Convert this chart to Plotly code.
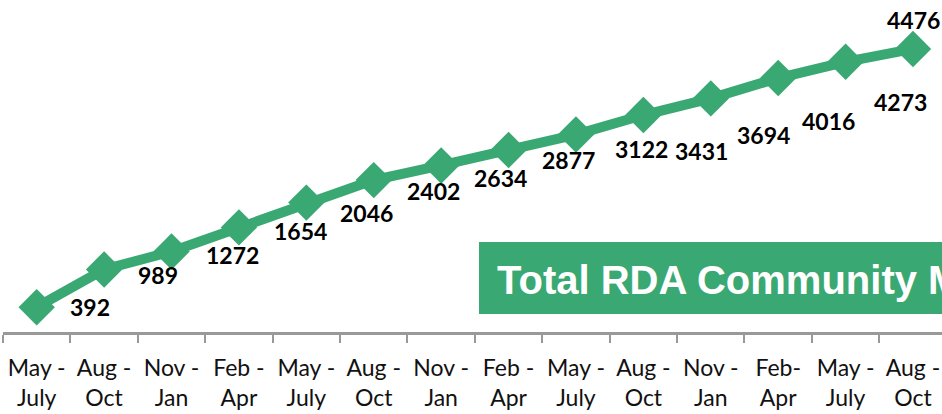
import plotly.graph_objects as go

# ---- data ----
period_start = ["May -", "Aug -", "Nov -", "Feb -", "May -", "Aug -", "Nov -",
                "Feb -", "May -", "Aug -", "Nov -", "Feb-", "May -", "Aug -"]
period_end = ["July", "Oct", "Jan", "Apr", "July", "Oct", "Jan",
              "Apr", "July", "Oct", "Jan", "Apr", "July", "Oct"]
members = [392, 989, 1272, 1654, 2046, 2402, 2634, 2877, 3122, 3431, 3694, 4016, 4273, 4476]

title_text = "Total RDA Community Members"

# label offsets in pixels (right, down) as placed in the original
label_dx = [53, 54, 61, 62, 60, 60, 59, 60, 66, 58, 53, 50, 55, 0]
label_dy = [0, 6, 3, 4, 10, 11, 13, 10, 14, 36, 37, 43, 40, -29]

GREEN = "#3AA872"

x_idx = list(range(len(members)))
tick_text = [f"{a}<br>{b}" for a, b in zip(period_start, period_end)]

fig = go.Figure()
fig.add_trace(go.Scatter(
    x=x_idx, y=members, mode="lines+markers",
    line=dict(color=GREEN, width=10),
    marker=dict(symbol="diamond", size=28, color=GREEN),
    showlegend=False, hoverinfo="skip",
))

annotations = []
for i, v in enumerate(members):
    annotations.append(dict(
        x=i, y=v, xref="x", yref="y", text=str(v), showarrow=False,
        xshift=label_dx[i], yshift=-label_dy[i],
        font=dict(family="Lato", size=23, color="black", weight="bold"),
    ))

# title box text
annotations.append(dict(
    x=(495 - 3) / 939, y=(332 - 280) / 332, xref="paper", yref="paper",
    xanchor="left", yanchor="middle", text=title_text, showarrow=False,
    font=dict(family="Liberation Sans", size=40, color="white", weight="bold"),
))

fig.update_layout(
    width=942, height=414,
    margin=dict(l=3, r=0, t=0, b=82),
    paper_bgcolor="white", plot_bgcolor="white",
    annotations=annotations,
    shapes=[dict(type="rect", xref="paper", yref="paper",
                 x0=(479 - 3) / 939, x1=1.1,
                 y0=(332 - 314) / 332, y1=(332 - 242) / 332,
                 fillcolor=GREEN, line=dict(width=0), layer="below")],
    xaxis=dict(
        range=[-0.5, 13.43], tickmode="array", tickvals=x_idx, ticktext=tick_text,
        ticks="", showgrid=False, zeroline=False,
        showline=True, linecolor="#999999", linewidth=2.5,
        ticklabelstandoff=14,
        tickfont=dict(family="Lato", size=23, color="#111111"),
        minor=dict(tick0=0.5, dtick=1, ticks="outside", ticklen=8,
                   tickwidth=2, tickcolor="#999999", showgrid=False),
    ),
    yaxis=dict(range=[0, 5250], visible=False, showgrid=False, zeroline=False),
)

fig.write_html(
    "out.html",
    config={"displayModeBar": False},
    post_script="document.body.style.margin='0';document.body.style.overflow='hidden';",
)
